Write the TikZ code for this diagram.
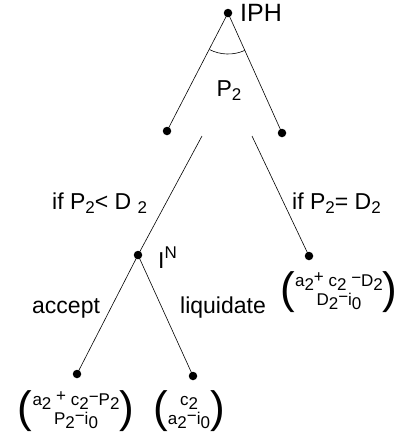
\documentclass[tikz,border=0pt]{standalone}
\usepackage{fontspec}
\setmainfont{Liberation Sans}
\newcommand{\lsub}[1]{\raisebox{-0.35ex}{\fontsize{17}{17}\selectfont #1}}
\newcommand{\msub}[1]{\raisebox{-0.5ex}{#1}}
\newcommand{\bigpar}[1]{\vcenter{\hbox{\fontsize{44}{44}\selectfont #1}}}
\newcommand{\mvec}[2]{$\bigpar{(}\vcenter{\hbox{\fontsize{17}{19}\selectfont\begin{tabular}{@{}c@{}}#1\\#2\end{tabular}}}\bigpar{)}$}
\begin{document}
\begin{tikzpicture}[x=1pt,y=-1pt,
  dotnode/.style={circle,fill=black,inner sep=0pt,minimum size=8.5pt},
  lab/.style={inner sep=0pt,font=\fontsize{23}{26}\selectfont},
  edge/.style={line width=0.6pt}]
\useasboundingbox (0,0) rectangle (401,445);
\node[dotnode] (root) at (228,13) {};
\node[dotnode] (l1) at (167,131) {};
\node[dotnode] (r1) at (282,133) {};
\coordinate (s1) at (202,136);
\coordinate (s2) at (252,136);
\node[dotnode] (in) at (138,255) {};
\node[dotnode] (r2) at (309,256) {};
\node[dotnode] (ll) at (77,374) {};
\node[dotnode] (lr) at (193,376) {};
\draw[edge] (root.center) -- (l1.center);
\draw[edge] (root.center) -- (r1.center);
\draw[edge] (s1) -- (in.center);
\draw[edge] (s2) -- (r2.center);
\draw[edge] (in.center) -- (ll.center);
\draw[edge] (in.center) -- (lr.center);
\draw[edge] (root.center) ++(117:41) arc[start angle=117,end angle=66,radius=41];
\node[lab,anchor=base west,font=\fontsize{25}{28}\selectfont] (iph) at (240,21) {IPH};
\node[lab,anchor=base] (p2) at (229,96) {P\lsub{2}};
\node[lab,anchor=base west] (c1) at (52,209) {if P\lsub{2}< D \lsub{2}};
\node[lab,anchor=base west] (c2) at (292,209) {if P\lsub{2}= D\lsub{2}};
\node[lab,anchor=base west] (inl) at (158,268) {I\raisebox{0.75ex}{\fontsize{17}{17}\selectfont N}};
\node[lab,anchor=base west] (acc) at (32,313) {accept};
\node[lab,anchor=base west] (liq) at (180,313) {liquidate};
\node[inner sep=0pt] (m1) at (339,292) {\mvec{a\msub{2}\raisebox{0.4ex}{+} c\msub{2} \raisebox{0.3ex}{−}D\msub{2}}{D\msub{2}\raisebox{0.3ex}{−}i\msub{0}}};
\node[inner sep=0pt] (m2) at (76,411) {\mvec{a\msub{2} \raisebox{0.4ex}{+} c\msub{2}\raisebox{0.3ex}{−}P\msub{2}}{P\msub{2}\raisebox{0.3ex}{−}i\msub{0}}};
\node[inner sep=0pt] (m3) at (189,411) {\mvec{c\msub{2}}{a\msub{2}\raisebox{0.3ex}{−}i\msub{0}}};
\end{tikzpicture}
\end{document}
